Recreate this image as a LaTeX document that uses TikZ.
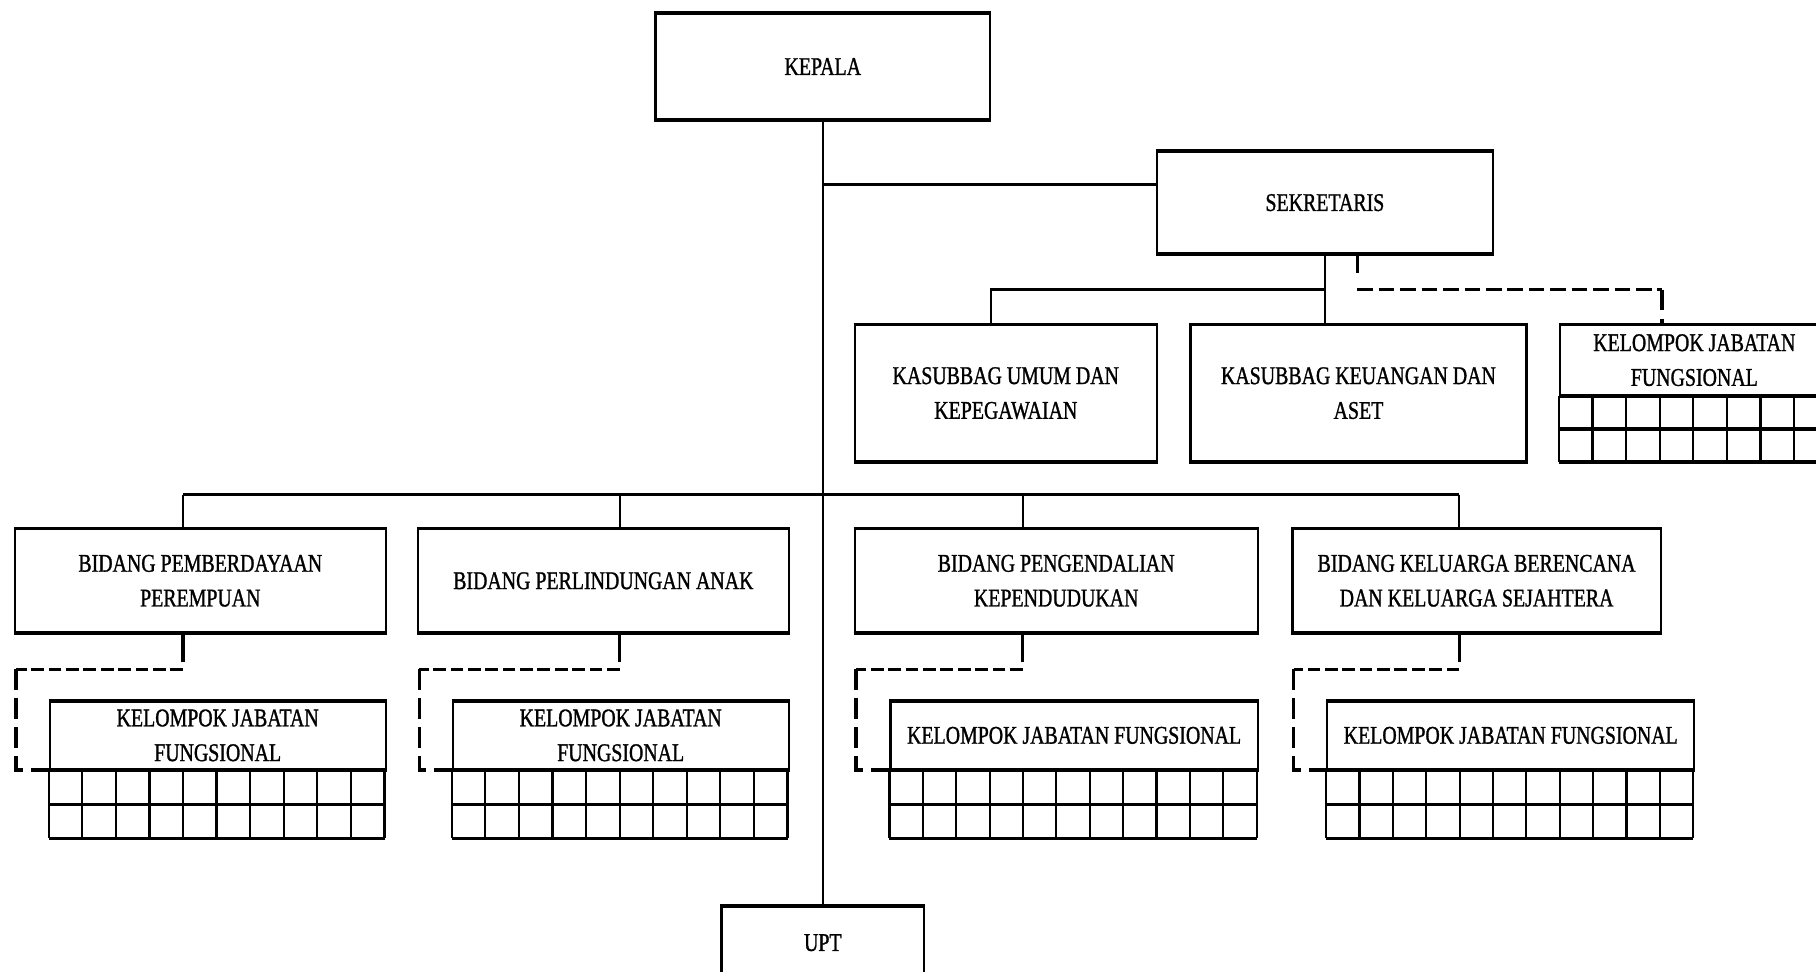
\documentclass[tikz,border=0pt]{standalone}
\usepackage{fontspec}
\setmainfont[FakeStretch=0.78,FakeBold=1.1]{Liberation Serif}
\usetikzlibrary{calc}
\begin{document}
\begin{tikzpicture}[x=1pt,y=-1pt,
  box/.style={draw, line width=1.9pt, anchor=north west, inner sep=0pt, align=center,
    font=\fontsize{22}{30}\selectfont},
  conn/.style={line width=1.6pt},
  bus/.style={line width=2.6pt},
  stub/.style={line width=3pt},
  dashl/.style={line width=3pt, dash pattern=on 11pt off 4pt},
  dashs/.style={line width=3pt, dash pattern=on 13.5pt off 5pt},
  dashv/.style={line width=3pt, dash pattern=on 18pt off 7pt},
  hl/.style={line width=2.8pt},
  vl/.style={line width=1.9pt}]
\useasboundingbox (0,0) rectangle (1568,839);
\clip (0,0) rectangle (1568,839);

% nodes
\node[box, minimum width=289pt, minimum height=91pt] (kepala) at (565,11) {KEPALA};
\node[box, minimum width=290pt, minimum height=88pt] (sek) at (998,130) {SEKRETARIS};
\node[box, minimum width=261pt, minimum height=117pt] (umum) at (737,280) {KASUBBAG UMUM DAN\\KEPEGAWAIAN};
\node[box, minimum width=290pt, minimum height=117pt] (keu) at (1027,280) {KASUBBAG KEUANGAN DAN\\ASET};
\node[box, minimum width=232pt, minimum height=60pt] (kjs) at (1346,280) {KELOMPOK JABATAN\\FUNGSIONAL};

\node[box, minimum width=320pt, minimum height=89pt] (b1) at (12,456) {BIDANG PEMBERDAYAAN\\PEREMPUAN};
\node[box, minimum width=320pt, minimum height=89pt] (b2) at (360,456) {BIDANG PERLINDUNGAN ANAK};
\node[box, minimum width=348pt, minimum height=89pt] (b3) at (737,456) {BIDANG PENGENDALIAN\\KEPENDUDUKAN};
\node[box, minimum width=318pt, minimum height=89pt] (b4) at (1115,456) {BIDANG KELUARGA BERENCANA\\DAN KELUARGA SEJAHTERA};

\node[box, minimum width=290pt, minimum height=58pt] (k1) at (42,605) {KELOMPOK JABATAN\\FUNGSIONAL};
\node[box, minimum width=290pt, minimum height=58pt] (k2) at (390,605) {KELOMPOK JABATAN\\FUNGSIONAL};
\node[box, minimum width=317pt, minimum height=58pt] (k3) at (768,605) {KELOMPOK JABATAN FUNGSIONAL};
\node[box, minimum width=317pt, minimum height=58pt] (k4) at (1145,605) {KELOMPOK JABATAN FUNGSIONAL};

\node[box, minimum width=175pt, minimum height=62pt] (upt) at (622,782) {UPT};

% heavier top and bottom edges
\foreach \n in {kepala, sek, umum, keu, kjs, b1, b2, b3, b4, k1, k2, k3, k4, upt}{
  \draw[hl] (\n.north west) -- (\n.north east);
  \draw[hl] (\n.south west) -- (\n.south east);
}

% grids
\foreach \n/\c/\w/\h in {k1/10/29/29.5, k2/10/29/29.5, k3/11/28.818/29.5, k4/11/28.818/29.5, kjs/8/29/28.5}{
  \draw[hl] ($(\n.south west)+(0,\h)$) -- ++(\c*\w,0);
  \draw[hl] ($(\n.south west)+(0,2*\h)$) -- ++(\c*\w,0);
  \foreach \i in {0,...,\c}{
    \draw[vl] ($(\n.south west)+(\i*\w,0)$) -- ++(0,2*\h);
  }
}

% solid connectors
\coordinate (sj) at (709.5,159);
\draw[conn] (kepala.south) -- (upt.north);
\draw[bus] (sj) -- (sj -| sek.west);
\coordinate (sb) at (1143,250);
\draw[vl] (sek.south) -- (sek.south |- keu.north);
\draw[vl] (sb) -| ($(umum.north)+(-13,0)$);

\coordinate (bl) at (158,427);
\coordinate (bb2) at (535,427);
\coordinate (bb3) at (883,427);
\coordinate (br) at (1260,427);
\draw[bus] (bl) -- (br);
\draw[conn] (bl) -- (bl |- b1.north);
\draw[conn] (bb2) -- (bb2 |- b2.north);
\draw[conn] (bb3) -- (bb3 |- b3.north);
\draw[conn] (br) -- (br |- b4.north);

% dashed connectors
\coordinate (sd) at (1172,236);
\draw[stub] (sd |- sek.south) -- (sd);
\draw[dashs] ($(sd)+(0,14)$) -- ($(kjs.north)+(-28,-30)$);
\draw[dashv] ($(kjs.north)+(-28,-30)$) -- ($(kjs.north)+(-28,0)$);

\coordinate (d1) at (158,578);
\coordinate (d2) at (535,578);
\coordinate (d3) at (883,578);
\coordinate (d4) at (1260,578);
\draw[stub] (d1 |- b1.south) -- ($(d1)+(0,-6)$);
\draw[stub] (d2 |- b2.south) -- ($(d2)+(0,-6)$);
\draw[stub] (d3 |- b3.south) -- ($(d3)+(0,-6)$);
\draw[stub] (d4 |- b4.south) -- ($(d4)+(0,-6)$);
\foreach \d/\k/\o in {d1/k1/144, d2/k2/173, d3/k3/144, d4/k4/143}{
  \draw[dashl] (\d) -- ++(-\o,0);
  \draw[dashv] ($(\d)+(-\o,0)$) |- (\k.south west);
}
\end{tikzpicture}
\end{document}
